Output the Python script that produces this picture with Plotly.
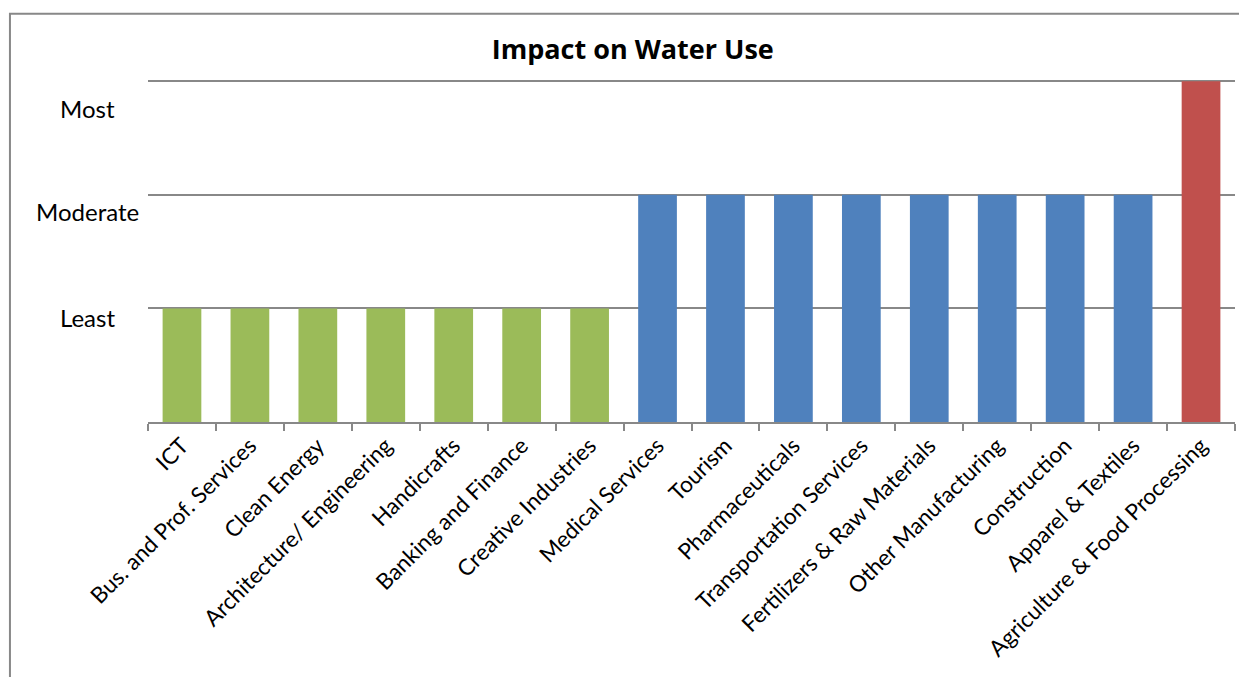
import plotly.graph_objects as go

# sectors, in the order shown
sectors = [
    "ICT", "Bus. and Prof. Services", "Clean Energy", "Architecture/ Engineering",
    "Handicrafts", "Banking and Finance", "Creative Industries", "Medical Services",
    "Tourism", "Pharmaceuticals", "Transportation Services", "Fertilizers & Raw Materials",
    "Other Manufacturing", "Construction", "Apparel & Textiles", "Agriculture & Food Processing",
]
# 1 = Least, 2 = Moderate, 3 = Most
impact = [1, 1, 1, 1, 1, 1, 1, 2, 2, 2, 2, 2, 2, 2, 2, 3]

level_names = ["Least", "Moderate", "Most"]
level_values = [1, 2, 3]
# where the level labels sit on the value axis
level_label_pos = [0.92, 1.85, 2.76]

level_colors = {1: "#9BBB59", 2: "#4F81BD", 3: "#C0504D"}
FONT = "Lato"

fig = go.Figure(
    go.Bar(
        x=sectors,
        y=impact,
        marker=dict(color=[level_colors[v] for v in impact], line=dict(width=0)),
        hoverinfo="x+y",
    )
)

annotations = [
    dict(text=name, x=-0.056, xref="paper", y=pos, yref="y",
         xanchor="center", yanchor="middle", showarrow=False,
         font=dict(family=FONT, size=24, color="black"))
    for name, pos in zip(level_names, level_label_pos)
]

# the page body has an 8px margin, so the margins are shifted to match
fig.update_layout(
    width=1247,
    height=677,
    margin=dict(l=140, r=20, t=71, b=263),
    paper_bgcolor="white",
    plot_bgcolor="white",
    showlegend=False,
    bargap=0.43,
    title=dict(
        text="<b>Impact on Water Use</b>",
        x=0.501, xref="container", xanchor="center",
        y=0.938, yref="container", yanchor="middle",
        font=dict(family="Open Sans", size=27, color="black"),
    ),
    xaxis=dict(
        type="category",
        tickangle=-45,
        tickson="boundaries",
        ticks="outside",
        ticklen=7,
        tickcolor="#888888",
        tickwidth=1.5,
        showline=True,
        linecolor="#888888",
        linewidth=1.5,
        showgrid=False,
        tickfont=dict(family=FONT, size=22.5, color="black"),
    ),
    yaxis=dict(
        range=[0, 3.02],
        tickvals=level_values,
        showticklabels=False,
        showgrid=True,
        gridcolor="#888888",
        gridwidth=1.5,
        zeroline=False,
        showline=False,
        ticks="",
        fixedrange=True,
    ),
    annotations=annotations,
    shapes=[
        dict(type="rect", xref="paper", yref="paper",
             x0=-0.127, x1=1.05, y0=-1.0, y1=1.19,
             line=dict(color="#888888", width=2), fillcolor="rgba(0,0,0,0)",
             layer="below")
    ],
)

fig.write_html("out.html")
